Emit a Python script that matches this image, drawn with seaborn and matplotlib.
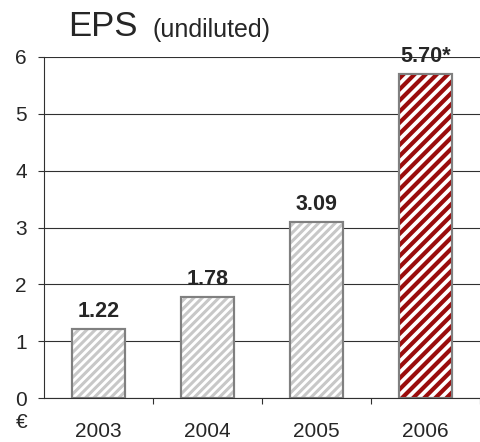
import matplotlib
matplotlib.use("Agg")
import matplotlib.pyplot as plt
import seaborn as sns
import pandas as pd
from matplotlib.patches import Rectangle

years = ["2003", "2004", "2005", "2006"]
eps = [1.22, 1.78, 3.09, 5.70]
labels = ["1.22", "1.78", "3.09", "5.70*"]
hatch_colors = ["#c8c8c8", "#c8c8c8", "#c8c8c8", "#9a0c0c"]
hatches = ["////", "////", "////", "///"]

sns.set_style("white")
plt.rcParams['font.family'] = ['Liberation Sans', 'DejaVu Sans']

df = pd.DataFrame({"year": years, "eps": eps})

fig = plt.figure(figsize=(4.8, 4.42), dpi=100)
ax = fig.add_axes([44/480, 1 - 398/442, 436/480, (398-57)/442])

sns.barplot(data=df, x="year", y="eps", ax=ax, color="white", width=0.49,
            edgecolor="#808080", linewidth=1.5, saturation=1)

for i, p in enumerate(ax.patches):
    r = Rectangle((p.get_x(), p.get_y()), p.get_width(), p.get_height(),
                  fill=False, hatch=hatches[i], edgecolor=hatch_colors[i], linewidth=0,
                  zorder=p.get_zorder()+0.1)
    try:
        r.set_hatch_linewidth(3.0 if i == 3 else 2.2)
    except Exception:
        pass
    ax.add_patch(r)
    ax.add_patch(Rectangle((p.get_x(), p.get_y()), p.get_width(), p.get_height(),
                           fill=False, edgecolor="#808080", linewidth=1.5,
                           zorder=p.get_zorder()+0.2))
    ax.annotate(labels[i], (p.get_x() + p.get_width()/2, p.get_height()),
                xytext=(0, 5), textcoords="offset points",
                ha="center", va="bottom", fontsize=15.5, fontweight="bold", zorder=5)

ax.set_ylim(0, 6)
ax.set_xlim(-0.5, 3.5)
ax.set_yticks(range(7))
ax.yaxis.grid(True, color="#303030", linewidth=0.8)
ax.set_axisbelow(True)
for s in ["top", "right"]:
    ax.spines[s].set_visible(False)
ax.spines["left"].set_color("#303030")
ax.spines["bottom"].set_color("#303030")
ax.spines["left"].set_linewidth(0.8)
ax.spines["bottom"].set_linewidth(0.8)
ax.set_xlabel("")
ax.set_ylabel("")
ax.tick_params(axis="y", left=True, length=4.5, width=0.8, color="#303030",
               labelsize=15, pad=8)
ax.set_xticks(range(4))
ax.set_xticklabels(years)
ax.tick_params(axis="x", bottom=False, labelsize=15, pad=14)
ax.set_xticks([0.5, 1.5, 2.5, 3.5], minor=True)
ax.tick_params(axis="x", which="minor", bottom=True, length=4.5, width=0.8, color="#303030")

fig.text(68/480, 1 - 36/442, "EPS", fontsize=25, ha="left", va="baseline")
fig.text(153/480, 1 - 37/442, "(undiluted)", fontsize=18, ha="left", va="baseline")
fig.text(16/480, 1 - 423/442, "€", fontsize=15, ha="left", va="center")

fig.savefig("out.png", dpi=100)
